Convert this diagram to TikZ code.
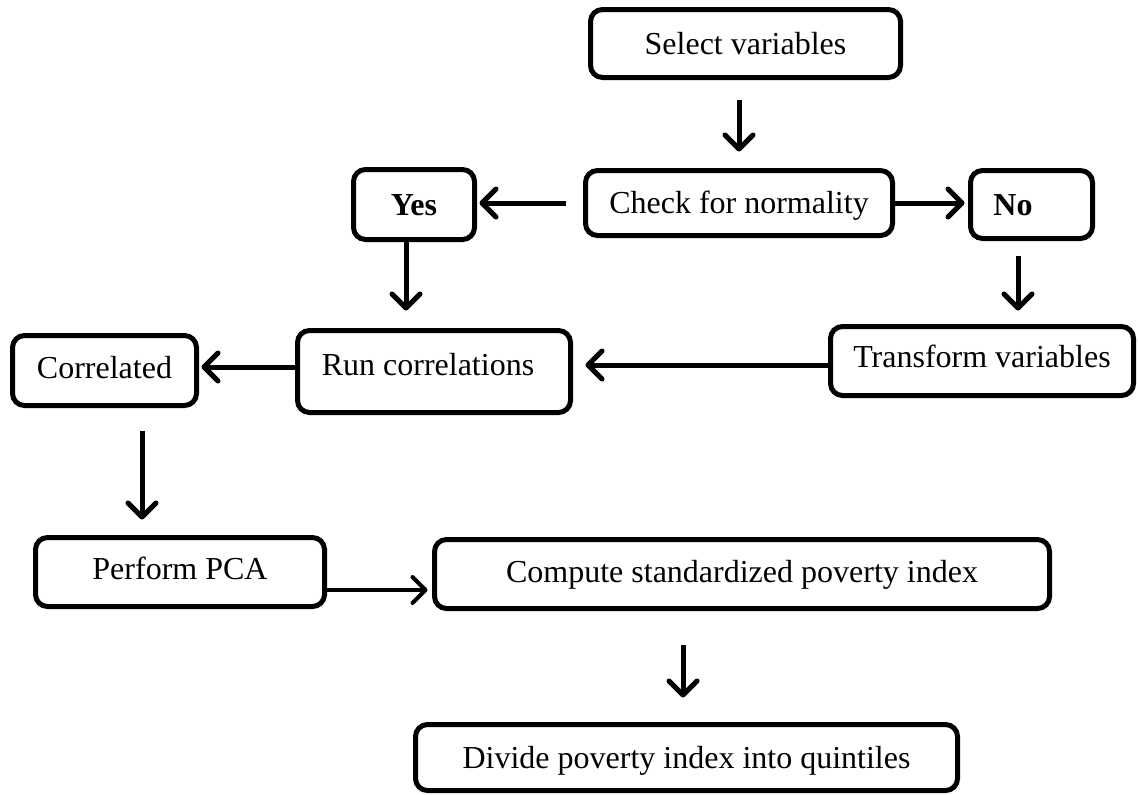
\documentclass[tikz,border=0pt]{standalone}
\usepackage{fontspec}
\setmainfont{Liberation Serif}
\usetikzlibrary{arrows.meta}
\begin{document}
\begin{tikzpicture}[x=1pt,y=-1pt,
  box/.style={draw, line width=5pt, rounded corners=12pt, inner sep=0pt,
    font=\fontsize{32}{38}\selectfont, text height=21pt, text depth=0pt},
  arr/.style={line width=5pt, -{Straight Barb[length=14pt,width=28pt,round]}},
  thinarr/.style={line width=4pt, -{Straight Barb[length=13pt,width=26pt,round]}}]
\useasboundingbox (0,0) rectangle (1138,795);
\node[box, minimum width=310pt, minimum height=68pt] (sel) at (745.5,43.5) {Select variables};
\node[box, minimum width=307pt, minimum height=65pt] (chk) at (739,203) {Check for normality};
\node[box, minimum width=121pt, minimum height=70pt] (yes) at (414,204.5) {\bfseries Yes};
\node[box, minimum width=122pt, minimum height=68pt] (no) at (1031.5,204.5) {\bfseries No\hspace*{37pt}};
\node[box, minimum width=303pt, minimum height=69pt, text depth=8pt] (trn) at (982,361) {Transform variables};
\node[box, minimum width=273pt, minimum height=82pt, text depth=13pt] (run) at (434,371.5) {Run correlations\hspace*{12pt}};
\node[box, minimum width=184pt, minimum height=70pt, text depth=5pt] (cor) at (104.5,370.5) {Correlated};
\node[box, minimum width=289pt, minimum height=69pt, text depth=6pt] (pca) at (180,572) {Perform PCA};
\node[box, minimum width=615pt, minimum height=69pt, text depth=4pt] (cmp) at (742,574) {Compute standardized poverty index};
\node[box, minimum width=542pt, minimum height=66pt] (div) at (686.5,757.5) {Divide poverty index into quintiles};
\draw[arr, shorten <=19.5pt, shorten >=16.5pt] (sel.south -| chk.north) -- (chk.north);
\draw[arr, shorten <=17.5pt, shorten >=2.5pt] (chk.west) -- (chk.west -| yes.east);
\draw[arr, shorten >=3.5pt] (chk.east) -- (chk.east -| no.west);
\draw[arr, shorten >=17.5pt] ([xshift=-8pt]yes.south) -- ([xshift=-8pt]yes.south |- run.north);
\draw[arr, shorten <=14.5pt, shorten >=13.5pt] ([xshift=-13.5pt]no.south) -- ([xshift=-13.5pt]no.south |- trn.north);
\draw[arr, shorten >=12.5pt] (trn.west |- 0,365) -- (run.east |- 0,365);
\draw[arr, shorten >=2.5pt] (run.west |- 0,367) -- (cor.east |- 0,367);
\draw[arr, shorten <=22.5pt, shorten >=15.5pt] (cor.south -| 142,0) -- (pca.north -| 142,0);
\draw[thinarr, shorten >=4.5pt] (pca.east |- 0,590) -- (cmp.west |- 0,590);
\draw[arr, shorten <=33.5pt, shorten >=24.5pt] (cmp.south -| 683,0) -- (div.north -| 683,0);
\end{tikzpicture}
\end{document}
